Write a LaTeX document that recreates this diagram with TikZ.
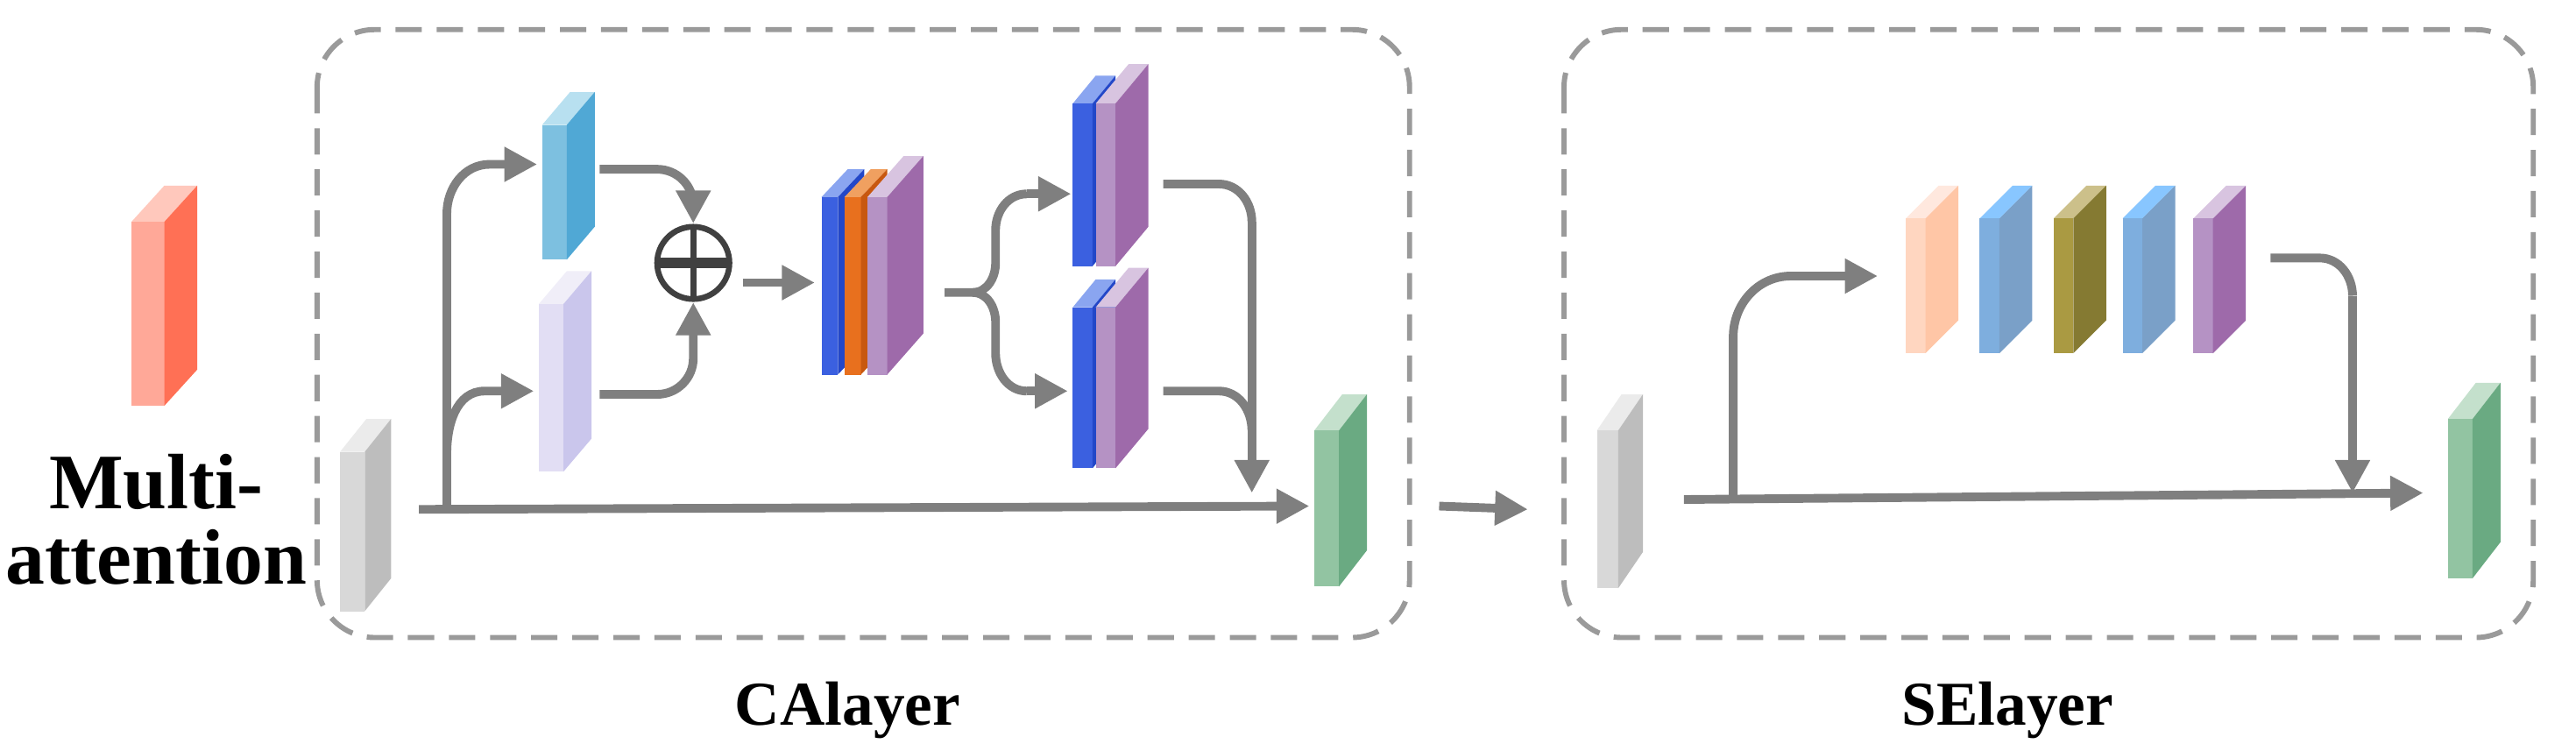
\documentclass[tikz,border=0pt]{standalone}
\usepackage{fontspec}
\setmainfont{Liberation Serif}
\usetikzlibrary{arrows.meta}
\newcommand{\myslab}[9]{% name,x,yt,yb,w,dx,dy,front,side
  \fill[#8] (#2,#3) rectangle ++(#5,#4-#3);
  \fill[#9] (#2+#5,#3) -- ++(#6,-#7) -- ++(0,#4-#3) -- (#2+#5,#4) -- cycle;
  \coordinate (#1) at (#2+#5*0.5,#3*0.5+#4*0.5);
}
\newcommand{\mytop}[6]{% x,yt,w,dx,dy,color
  \fill[#6] (#1,#2) -- ++(#4,-#5) -- ++(#3,0) -- (#1+#3,#2) -- cycle;
}
\definecolor{ar}{HTML}{7F7F7F}
\definecolor{bx}{HTML}{9A9A9A}
\tikzset{
  conn/.style={draw=ar, line width=1.5pt, -{Triangle[length=2mm,width=2mm]}},
  plain/.style={draw=ar, line width=1.5pt},
  box/.style={draw=bx, line width=0.9pt, dash pattern=on 1.6mm off 0.9mm, rounded corners=3.5mm},
  lab/.style={font=\bfseries\fontsize{10.8}{12}\selectfont}
}
\begin{document}
\begin{tikzpicture}[x=0.01cm,y=-0.01cm]
\useasboundingbox (0,0) rectangle (1568,457);
% boxes
\draw[box] (193,18) rectangle (858,388);
\draw[box] (952,18) rectangle (1542,388);
\node[lab] (ca) at (516,432) {CAlayer};
\node[lab] (se) at (1222,432) {SElayer};
% multi attention
\definecolor{rF}{HTML}{FFA898}\definecolor{rS}{HTML}{FF7055}\definecolor{rT}{HTML}{FFC8BC}
\mytop{80}{135}{20}{20}{22}{rT}
\myslab{ma}{80}{135}{247}{20}{20}{22}{rF}{rS}
\node[font=\bfseries\fontsize{13.6}{15}\selectfont, align=center] (mat) at (95,316) {Multi-\\[-2pt]attention};
% CA layer slabs
\definecolor{gF}{HTML}{D8D8D8}\definecolor{gS}{HTML}{BDBDBD}\definecolor{gT}{HTML}{EBEBEB}
\definecolor{cF}{HTML}{7DC0E0}\definecolor{cS}{HTML}{50A8D5}\definecolor{cT}{HTML}{B8E0F0}
\definecolor{lF}{HTML}{E2DEF4}\definecolor{lS}{HTML}{CAC6EC}\definecolor{lT}{HTML}{F0EEF8}
\mytop{207}{275}{15}{16}{20}{gT}
\myslab{gin}{207}{275}{372}{15}{16}{20}{gF}{gS}
\mytop{330}{76}{15}{17}{20}{cT}
\myslab{b1}{330}{76}{158}{15}{17}{20}{cF}{cS}
\mytop{328}{185}{15}{17}{20}{lT}
\myslab{l1}{328}{185}{287}{15}{17}{20}{lF}{lS}
% plus
\draw[black!75, line width=1pt] (422,160) circle (22);
\node[inner sep=0] (plus) at (422,160) {};
\draw[black!75, line width=1.9pt] (400,160) -- (444,160);
\draw[black!75, line width=1pt] (422,138) -- (422,182);
% stack of three
\definecolor{bF}{HTML}{3B60E0}\definecolor{bS}{HTML}{2347C8}\definecolor{bT}{HTML}{8AA5F0}
\definecolor{oF}{HTML}{E8701E}\definecolor{oS}{HTML}{C8580F}\definecolor{oT}{HTML}{F0A060}
\definecolor{pF}{HTML}{B592C4}\definecolor{pS}{HTML}{9E6AAA}\definecolor{pT}{HTML}{D8C4E0}
\mytop{500}{120}{10}{16}{17}{bT}
\myslab{s1}{500}{120}{228}{10}{16}{17}{bF}{bS}
\mytop{514}{120}{10}{16}{17}{oT}
\myslab{s2}{514}{120}{228}{10}{16}{17}{oF}{oS}
\mytop{528}{120}{12}{22}{25}{pT}
\myslab{s3}{528}{120}{228}{12}{22}{25}{pF}{pS}
% pairs
\foreach \yt/\yb/\n in {63/162/pa,187/285/pb}{
 \mytop{653}{\yt}{12}{14}{17}{bT}
 \myslab{\n1}{653}{\yt}{\yb}{12}{14}{17}{bF}{bS}
 \mytop{667}{\yt}{12}{20}{24}{pT}
 \myslab{\n2}{667}{\yt}{\yb}{12}{20}{24}{pF}{pS}
}
% green out
\definecolor{nF}{HTML}{92C4A2}\definecolor{nS}{HTML}{6AAA82}\definecolor{nT}{HTML}{C4E0CC}
\mytop{800}{262}{15}{17}{22}{nT}
\myslab{gout}{800}{262}{357}{15}{17}{22}{nF}{nS}
% CA connectors
\coordinate (c0) at (255,310);
\coordinate (c1) at (272,310);
\draw[conn] (c0) -- (797,308);
\draw[conn] (c1) -- (272,130) to[out=90,in=180] (298,100) -- (327,100);
\draw[conn] (272,276) to[out=90,in=180] (295,238) -- (325,238);
\draw[conn] (365,103) -- (400,103) to[out=0,in=90] (422,125) -- (422,136);
\draw[conn] (365,240) -- (400,240) to[out=0,in=-90] (422,218) -- (422,184);
\draw[conn] (452,172) -- (496,172);
\draw[plain] (575,178) -- (592,178) to[out=0,in=-90] (606,160) -- (606,140) to[out=90,in=180] (625,118);
\draw[conn] (625,118) -- (652,118);
\draw[plain] (592,178) to[out=0,in=90] (606,196) -- (606,215) to[out=-90,in=180] (625,238);
\draw[conn] (625,238) -- (650,238);
\draw[plain] (708,112) -- (742,112) to[out=0,in=90] (762,135);
\draw[conn] (762,135) -- (762,300);
\draw[plain] (708,238) -- (742,238) to[out=0,in=90] (762,262);
% between
\draw[conn] (876,308) -- (930,310);
% SE layer
\mytop{972}{262}{13}{15}{22}{gT}
\myslab{sin}{972}{262}{358}{13}{15}{22}{gF}{gS}
\definecolor{kF}{HTML}{FFD6C0}\definecolor{kS}{HTML}{FFC6A6}\definecolor{kT}{HTML}{FFE8DE}
\definecolor{uF}{HTML}{7EAEDE}\definecolor{uS}{HTML}{7AA0C8}\definecolor{uT}{HTML}{88C6FF}
\definecolor{vF}{HTML}{AA9A42}\definecolor{vS}{HTML}{857A32}\definecolor{vT}{HTML}{CCC08A}
\foreach \x/\f/\s/\t/\n in {1160/kF/kS/kT/e1,1205/uF/uS/uT/e2,1250/vF/vS/vT/e3,1292/uF/uS/uT/e4,1335/pF/pS/pT/e5}{
 \mytop{\x}{133}{12}{20}{20}{\t}
 \myslab{\n}{\x}{133}{215}{12}{20}{20}{\f}{\s}
}
\mytop{1490}{255}{15}{17}{22}{nT}
\myslab{sout}{1490}{255}{352}{15}{17}{22}{nF}{nS}
\coordinate (d0) at (1025,304);
\draw[conn] (d0) -- (1475,300);
\draw[conn] (1055,304) -- (1055,205) to[out=90,in=180] (1090,168) -- (1143,168);
\draw[plain] (1382,157) -- (1412,157) to[out=0,in=90] (1432,180);
\draw[conn] (1432,180) -- (1432,300);
\end{tikzpicture}
\end{document}
